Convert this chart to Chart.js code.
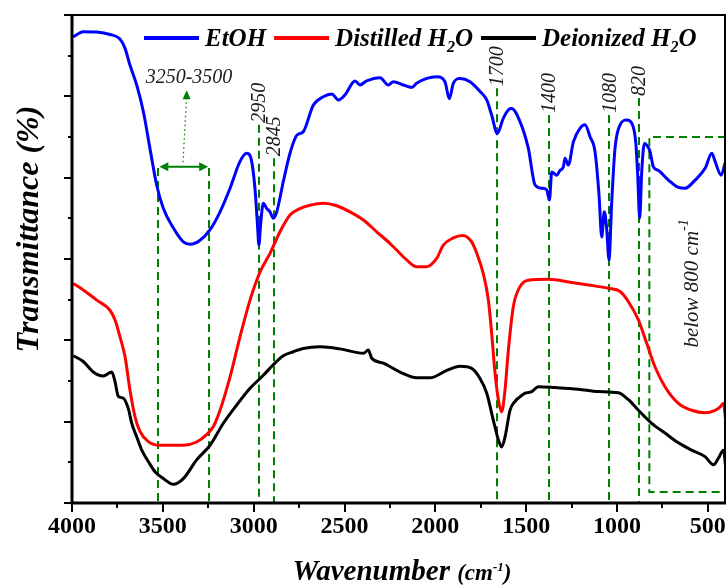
<!DOCTYPE html>
<html>
<head>
<meta charset="utf-8">
<script src="https://cdn.jsdelivr.net/npm/chart.js@4.4.1/dist/chart.umd.min.js"></script>
<style>
  html, body { margin: 0; padding: 0; background: #fff; }
</style>
</head>
<body>
<canvas id="ftirChart" width="728" height="586"></canvas>
<script>
// FTIR spectra, wavenumber (cm-1) vs transmittance (%)
const etohWn = [3993, 3938, 3864, 3791, 3736, 3708, 3681, 3644, 3607, 3571, 3534, 3497, 3442, 3387, 3350, 3295, 3240, 3185, 3130, 3075,
  3038, 3011, 2993, 2980, 2971, 2962, 2947, 2928, 2910, 2892, 2873, 2837, 2800, 2763, 2727, 2672, 2617, 2570, 2534, 2497,
  2442, 2415, 2378, 2304, 2259, 2231, 2176, 2130, 2103, 2047, 1992, 1947, 1923, 1901, 1864, 1809, 1754, 1717, 1690, 1659,
  1626, 1595, 1580, 1534, 1488, 1451, 1414, 1387, 1372, 1359, 1332, 1314, 1295, 1286, 1268, 1240, 1203, 1176, 1148, 1121,
  1099, 1084, 1070, 1057, 1044, 1029, 1011, 983, 946, 919, 897, 886, 875, 864, 849, 836, 818, 800, 773, 717,
  662, 625, 570, 515, 478, 460, 427, 405];
const etohT = [97.3, 97.95, 97.9, 97.6, 97.05, 95.9, 93.85, 91.4, 88.1, 83.6, 79.1, 76.2, 73.8, 72.1, 71.8, 72.3, 73.6, 75.8, 78.7, 82.0,
  83.0, 82.0, 78.7, 74.6, 71.7, 74.2, 76.85, 76.2, 75.8, 75.0, 75.8, 79.5, 83.0, 85.2, 85.65, 88.9, 89.95, 90.3, 89.55, 90.2,
  91.9, 91.4, 91.9, 92.3, 91.4, 91.8, 91.4, 91.1, 91.6, 92.2, 92.4, 91.8, 89.7, 91.6, 92.2, 91.8, 90.6, 89.55, 87.7, 85.45,
  87.3, 88.4, 88.5, 86.9, 83.6, 79.1, 78.7, 78.5, 77.25, 80.7, 80.3, 80.9, 81.35, 82.4, 81.55, 84.4, 86.1, 86.5, 85.0, 83.2,
  77.9, 72.7, 75.8, 73.8, 69.9, 77.0, 83.6, 86.5, 87.1, 86.7, 84.4, 80.3, 75.0, 80.7, 84.2, 84.0, 83.2, 81.35, 80.9, 79.7,
  78.8, 78.7, 79.7, 81.15, 83.0, 82.0, 80.3, 81.8];

const distWn = [3993, 3938, 3864, 3791, 3763, 3736, 3708, 3681, 3653, 3626, 3580, 3516, 3461, 3387, 3314, 3259, 3222, 3185, 3130, 3075,
  3020, 2965, 2910, 2855, 2800, 2745, 2690, 2617, 2543, 2470, 2396, 2323, 2249, 2213, 2158, 2103, 2047, 1992, 1956, 1901,
  1849, 1800, 1772, 1736, 1708, 1690, 1671, 1653, 1635, 1616, 1598, 1571, 1534, 1488, 1378, 1249, 1158, 1047, 983, 937,
  882, 836, 791, 736, 662, 589, 515, 460, 433, 414, 402];
const distT = [67.0, 66.2, 64.95, 63.7, 62.5, 60.45, 58.0, 53.9, 50.6, 48.8, 47.55, 47.1, 47.1, 47.1, 47.5, 48.4, 49.4, 51.4, 55.5, 60.45,
  64.95, 68.4, 70.7, 73.35, 75.4, 76.2, 76.6, 76.85, 76.55, 75.8, 74.8, 73.35, 71.9, 71.1, 69.9, 69.05, 69.05, 70.1, 71.7, 72.6,
  72.9, 72.1, 70.7, 68.2, 64.95, 60.9, 55.9, 52.7, 51.2, 54.0, 58.8, 64.1, 66.6, 67.4, 67.5, 67.1, 66.8, 66.4, 66.0, 64.75,
  62.5, 59.6, 56.75, 54.3, 52.25, 51.4, 51.1, 51.4, 51.8, 52.25, 50.2];

const deionWn = [3993, 3938, 3883, 3828, 3781, 3763, 3745, 3718, 3690, 3671, 3644, 3616, 3580, 3543, 3497, 3442, 3387, 3314, 3240, 3167,
  3093, 3020, 2947, 2892, 2837, 2782, 2727, 2635, 2525, 2396, 2369, 2350, 2286, 2194, 2103, 2029, 1937, 1864, 1800, 1754,
  1717, 1681, 1653, 1635, 1616, 1589, 1561, 1543, 1506, 1469, 1433, 1341, 1213, 1103, 993, 937, 882, 809, 736, 662,
  589, 515, 469, 442, 414, 396];
const deionT = [58.1, 57.4, 56.1, 55.6, 56.1, 54.9, 53.1, 52.9, 51.6, 49.8, 48.15, 46.5, 45.1, 43.85, 43.0, 42.3, 43.0, 45.3, 47.1, 49.8,
  52.05, 54.1, 55.7, 57.0, 58.1, 58.6, 59.0, 59.2, 58.95, 58.4, 58.8, 57.8, 57.2, 56.1, 55.4, 55.4, 56.3, 56.8, 56.55, 55.3,
  53.5, 50.2, 47.75, 46.9, 48.15, 51.4, 52.5, 52.9, 53.5, 53.7, 54.3, 54.2, 54.0, 53.7, 53.55, 52.7, 51.4, 49.8, 48.6, 47.4,
  46.5, 45.7, 44.7, 45.5, 46.5, 42.8];

const seriesNames = ['EtOH', 'Distilled H2O', 'Deionized H2O'];
const seriesColors = ['#0000ff', '#ff0000', '#000000'];
const xTicks = [4000, 3500, 3000, 2500, 2000, 1500, 1000, 500];

// marked bands / peaks (cm-1), with the height (T) where each dashed line starts
const bandWn = [3525, 3245];
const bandTop = 81.2;
const peakWn = [2973, 2890, 1663, 1377, 1042, 879];
const peakTop = [86.5, 82.4, 91.0, 87.7, 87.7, 89.8];
const peakLabels = ['2950', '2845', '1700', '1400', '1080', '820'];
const lowBox = [822, 400, 85.0, 41.35]; // from wn, to wn, top T, bottom T

const SERIF = '"Liberation Serif", "Times New Roman", serif';
const GREEN = '#008000';

function pairs(xs, ys) {
  const n = Math.min(xs.length, ys.length);
  const out = [];
  for (let i = 0; i < n; i++) out.push({ x: xs[i], y: ys[i] });
  return out;
}

// draws text made of pieces (sub/superscripts), returns width
function richText(ctx, parts, x, y, measureOnly) {
  let w = 0;
  parts.forEach(p => {
    ctx.font = p.font;
    if (!measureOnly) ctx.fillText(p.t, x + w, y + (p.dy || 0));
    w += ctx.measureText(p.t).width;
  });
  return w;
}

const decor = {
  id: 'decor',
  beforeDatasetsDraw(chart) {
    const ctx = chart.ctx, xs = chart.scales.x, ys = chart.scales.y, a = chart.chartArea;
    ctx.save();
    ctx.strokeStyle = GREEN;
    ctx.fillStyle = GREEN;
    ctx.lineWidth = 2;
    ctx.setLineDash([8, 5]);
    bandWn.forEach(w => {
      const x = Math.round(xs.getPixelForValue(w));
      ctx.beginPath();
      ctx.moveTo(x, ys.getPixelForValue(bandTop));
      ctx.lineTo(x, a.bottom);
      ctx.stroke();
    });
    peakWn.forEach((w, i) => {
      const x = Math.round(xs.getPixelForValue(w));
      ctx.beginPath();
      ctx.moveTo(x, ys.getPixelForValue(peakTop[i]));
      ctx.lineTo(x, a.bottom);
      ctx.stroke();
    });
    // box round the region below 800
    const bl = xs.getPixelForValue(lowBox[0]), br = xs.getPixelForValue(lowBox[1]);
    const bt = ys.getPixelForValue(lowBox[2]), bb = ys.getPixelForValue(lowBox[3]);
    ctx.beginPath();
    ctx.moveTo(br, bt); ctx.lineTo(bl, bt); ctx.lineTo(bl, bb); ctx.lineTo(br, bb);
    ctx.stroke();

    // double arrow between the two band lines
    ctx.setLineDash([]);
    const ay = ys.getPixelForValue(81.35);
    const x1 = xs.getPixelForValue(bandWn[0]) + 1, x2 = xs.getPixelForValue(bandWn[1]) - 1;
    ctx.beginPath(); ctx.moveTo(x1 + 6, ay); ctx.lineTo(x2 - 6, ay); ctx.stroke();
    ctx.beginPath(); ctx.moveTo(x1, ay); ctx.lineTo(x1 + 9, ay - 4.5); ctx.lineTo(x1 + 9, ay + 4.5); ctx.fill();
    ctx.beginPath(); ctx.moveTo(x2, ay); ctx.lineTo(x2 - 9, ay - 4.5); ctx.lineTo(x2 - 9, ay + 4.5); ctx.fill();

    // dotted pointer up to the band label
    const dx1 = xs.getPixelForValue(3389), dy1 = ys.getPixelForValue(81.9);
    const dx2 = xs.getPixelForValue(3369), dy2 = ys.getPixelForValue(90.0);
    ctx.lineWidth = 1.3;
    ctx.setLineDash([1.5, 3]);
    ctx.beginPath(); ctx.moveTo(dx1, dy1); ctx.lineTo(dx2, dy2); ctx.stroke();
    ctx.setLineDash([]);
    ctx.beginPath(); ctx.moveTo(dx2, dy2 - 6); ctx.lineTo(dx2 - 4, dy2 + 3); ctx.lineTo(dx2 + 4, dy2 + 3); ctx.fill();

    // labels
    ctx.fillStyle = '#1a1a1a';
    ctx.font = 'italic 20px ' + SERIF;
    ctx.textAlign = 'center';
    ctx.textBaseline = 'middle';
    ctx.fillText('3250-3500', xs.getPixelForValue(3356), ys.getPixelForValue(92.25));
    ctx.textAlign = 'left';
    peakWn.forEach((w, i) => {
      ctx.save();
      ctx.translate(xs.getPixelForValue(w) + 1, ys.getPixelForValue(peakTop[i]) - 2);
      ctx.rotate(-Math.PI / 2);
      ctx.fillText(peakLabels[i], 0, 0);
      ctx.restore();
    });
    // rotated box caption
    const cap = [
      { t: 'below 800 cm', font: 'italic 21px ' + SERIF },
      { t: '-1', font: 'italic 14px ' + SERIF, dy: -8 }
    ];
    ctx.save();
    ctx.translate(xs.getPixelForValue(585), ys.getPixelForValue(67.0));
    ctx.rotate(-Math.PI / 2);
    const cw = richText(ctx, cap, 0, 0, true);
    richText(ctx, cap, -cw / 2, 0, false);
    ctx.restore();
    ctx.restore();
  },
  afterDraw(chart) {
    const ctx = chart.ctx, xs = chart.scales.x, ys = chart.scales.y, a = chart.chartArea;
    ctx.save();
    ctx.strokeStyle = '#000';
    ctx.fillStyle = '#000';
    // frame
    ctx.lineWidth = 2;
    ctx.beginPath();
    ctx.moveTo(a.left, a.top); ctx.lineTo(a.right - 1, a.top); ctx.lineTo(a.right - 1, a.bottom);
    ctx.stroke();
    ctx.lineWidth = 3;
    ctx.beginPath();
    ctx.moveTo(a.left, a.top - 1); ctx.lineTo(a.left, a.bottom); ctx.lineTo(a.right, a.bottom);
    ctx.stroke();
    // tick marks
    ctx.lineWidth = 2;
    for (let v = 500; v <= 4000; v += 250) {
      const x = Math.round(xs.getPixelForValue(v));
      const len = v % 500 === 0 ? 9 : 5;
      ctx.beginPath(); ctx.moveTo(x, a.bottom); ctx.lineTo(x, a.bottom + len); ctx.stroke();
    }
    for (let v = 40; v <= 100; v += 5) {
      const y = Math.round(ys.getPixelForValue(v));
      const len = v % 10 === 0 ? 8 : 4;
      ctx.beginPath(); ctx.moveTo(a.left, y); ctx.lineTo(a.left - len, y); ctx.stroke();
    }

    // axis titles
    ctx.textBaseline = 'alphabetic';
    ctx.textAlign = 'left';
    const xt = [
      { t: 'Wavenumber ', font: 'italic bold 29px ' + SERIF },
      { t: '(cm', font: 'italic bold 23px ' + SERIF },
      { t: '-1', font: 'italic bold 13px ' + SERIF, dy: -9 },
      { t: ')', font: 'italic bold 23px ' + SERIF }
    ];
    const xw = richText(ctx, xt, 0, 0, true);
    richText(ctx, xt, 402 - xw / 2, 580, false);

    ctx.save();
    ctx.translate(30, 229);
    ctx.rotate(-Math.PI / 2);
    ctx.font = 'italic bold 32px ' + SERIF;
    ctx.textAlign = 'center';
    ctx.textBaseline = 'middle';
    ctx.fillText('Transmittance (%)', 0, 0);
    ctx.restore();

    // legend
    let lx = 144;
    const ly = 38;
    chart.data.datasets.forEach((ds, i) => {
      ctx.fillStyle = ds.borderColor;
      ctx.fillRect(lx, ly - 2, 55, 4);
      lx += 61;
      ctx.fillStyle = '#000';
      const name = seriesNames[i];
      let parts;
      if (name.endsWith('H2O')) {
        parts = [
          { t: name.slice(0, -2), font: 'italic bold 25px ' + SERIF },
          { t: '2', font: 'italic bold 16px ' + SERIF, dy: 6 },
          { t: 'O', font: 'italic bold 25px ' + SERIF }
        ];
      } else {
        parts = [{ t: name, font: 'italic bold 25px ' + SERIF }];
      }
      lx += richText(ctx, parts, lx, 46, false) + 8;
    });
    ctx.restore();
  }
};

const ctx = document.getElementById('ftirChart').getContext('2d');
const ftirChart = new Chart(ctx, {
  type: 'line',
  data: {
    datasets: [
      { label: seriesNames[0], data: pairs(etohWn, etohT), borderColor: seriesColors[0] },
      { label: seriesNames[1], data: pairs(distWn, distT), borderColor: seriesColors[1] },
      { label: seriesNames[2], data: pairs(deionWn, deionT), borderColor: seriesColors[2] }
    ]
  },
  options: {
    responsive: false,
    animation: false,
    layout: { padding: { top: 15, right: 2, left: 0, bottom: 0 } },
    elements: {
      point: { radius: 0 },
      line: { borderWidth: 3, cubicInterpolationMode: 'monotone', fill: false }
    },
    plugins: {
      legend: { display: false },
      tooltip: { enabled: false }
    },
    scales: {
      x: {
        type: 'linear',
        reverse: true,
        min: 400,
        max: 4000,
        border: { display: false },
        grid: { display: false, drawTicks: false },
        afterBuildTicks: scale => { scale.ticks = xTicks.map(v => ({ value: v })); },
        ticks: {
          padding: 9,
          color: '#000',
          autoSkip: false,
          maxRotation: 0,
          font: { family: SERIF, size: 24, weight: 'bold' },
          callback: v => String(v)
        },
        afterFit: scale => {
          scale.height = 83;
          scale.paddingLeft = 0;
          scale.paddingRight = 0;
        }
      },
      y: {
        min: 40,
        max: 100,
        border: { display: false },
        grid: { display: false, drawTicks: false },
        ticks: { display: false, stepSize: 5 },
        afterFit: scale => { scale.width = 72; }
      }
    }
  },
  plugins: [decor]
});
</script>
</body>
</html>
